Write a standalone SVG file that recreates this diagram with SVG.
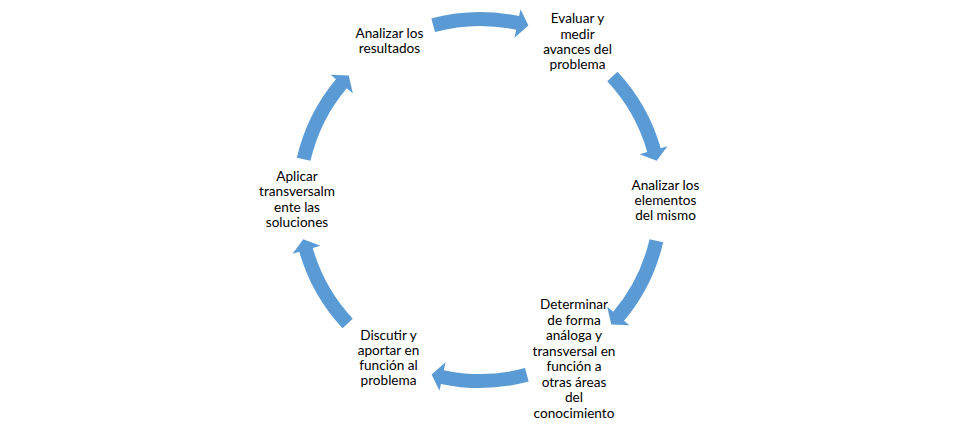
<svg xmlns="http://www.w3.org/2000/svg" xmlns:xlink="http://www.w3.org/1999/xlink" width="962" height="433" viewBox="0 0 962 433">
<style>
.t{font-family:Lato,"Open Sans","Liberation Sans",sans-serif;font-size:13.6px;fill:#000;text-anchor:middle}
.a{fill:#5B9BD5}
</style>
<defs>
<path id="arr" class="a" d="M181.59,-48.66 A188,188 0 0 1 183.89,39.09 L190.74,40.54 L174.42,48.37 L162.37,34.51 L170.20,36.18 A174,174 0 0 0 168.07,-45.03 Z"/>
</defs>
<rect width="962" height="433" fill="#fff"/>
<g id="connectors">
<use xlink:href="#arr" transform="translate(480,200) rotate(270)"/>
<use xlink:href="#arr" transform="translate(480,200) rotate(332)"/>
<use xlink:href="#arr" transform="translate(480,200) rotate(28)"/>
<use xlink:href="#arr" transform="translate(480,200) rotate(90)"/>
<use xlink:href="#arr" transform="translate(480,200) rotate(152)"/>
<use xlink:href="#arr" transform="translate(480,200) rotate(208)"/>
</g>
<g id="n1">
<text class="t" x="389.5" y="37.5">Analizar los</text>
<text class="t" x="389.5" y="53">resultados</text>
</g>
<g id="n2">
<text class="t" x="577.5" y="23.3">Evaluar y</text>
<text class="t" x="577.5" y="38.5">medir</text>
<text class="t" x="577.5" y="53.5">avances del</text>
<text class="t" x="577.5" y="68.5">problema</text>
</g>
<g id="n3">
<text class="t" x="665.5" y="190">Analizar los</text>
<text class="t" x="665.5" y="205">elementos</text>
<text class="t" x="665.5" y="220">del mismo</text>
</g>
<g id="n4">
<text class="t" x="574" y="309.3">Determinar</text>
<text class="t" x="574" y="324.8">de forma</text>
<text class="t" x="574" y="340.3">análoga y</text>
<text class="t" x="574" y="355.8">transversal en</text>
<text class="t" x="574" y="371.3">función a</text>
<text class="t" x="574" y="386.8">otras áreas</text>
<text class="t" x="574" y="402.3">del</text>
<text class="t" x="574" y="417.8">conocimiento</text>
</g>
<g id="n5">
<text class="t" x="388.5" y="340">Discutir y</text>
<text class="t" x="388.5" y="355">aportar en</text>
<text class="t" x="388.5" y="370">función al</text>
<text class="t" x="388.5" y="385">problema</text>
</g>
<g id="n6">
<text class="t" x="297" y="180.5">Aplicar</text>
<text class="t" x="297" y="196">transversalm</text>
<text class="t" x="297" y="211.5">ente las</text>
<text class="t" x="297" y="227">soluciones</text>
</g>
</svg>
